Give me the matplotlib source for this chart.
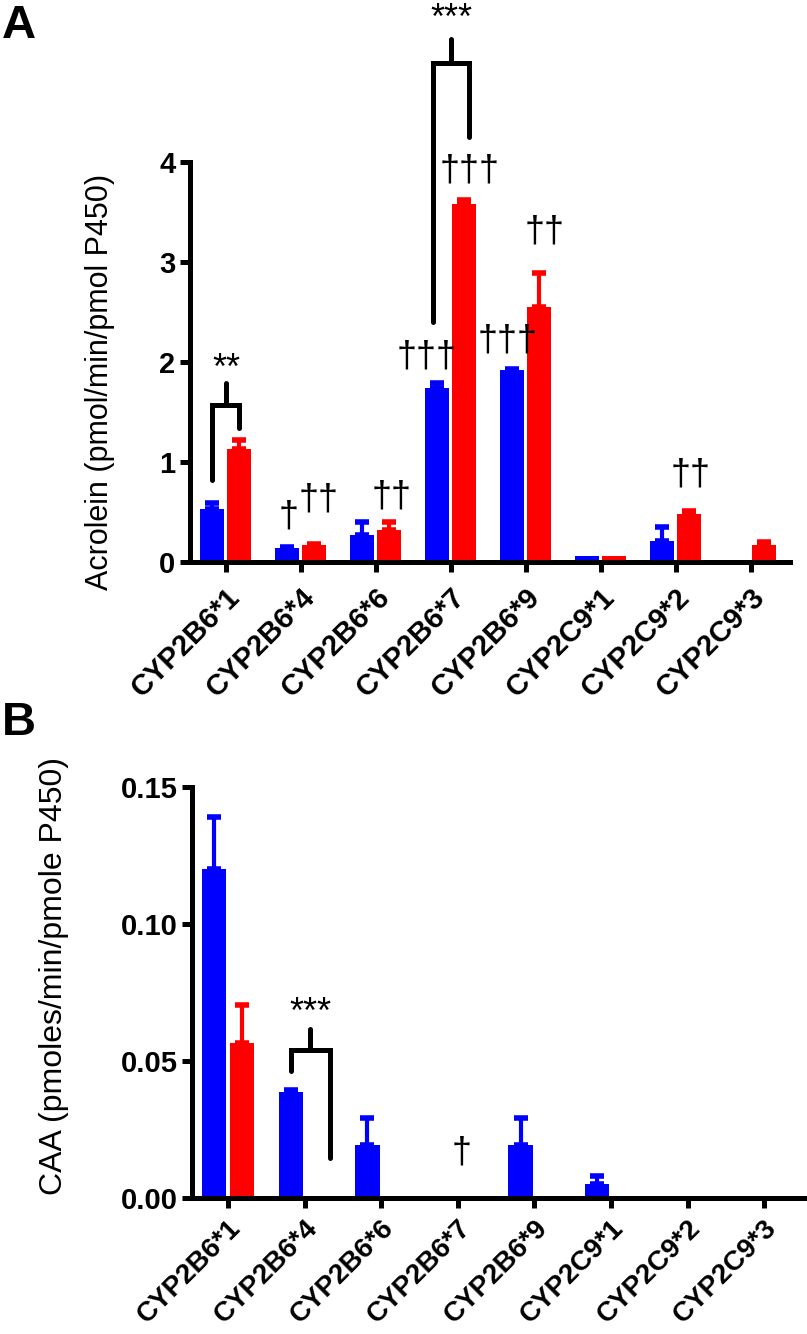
import numpy as np
import matplotlib
matplotlib.use('Agg')
from matplotlib import pyplot as plt

plt.rcParams['font.family'] = ['Liberation Sans', 'DejaVu Sans']

labels = ['CYP2B6*1', 'CYP2B6*4', 'CYP2B6*6', 'CYP2B6*7',
          'CYP2B6*9', 'CYP2C9*1', 'CYP2C9*2', 'CYP2C9*3']

# panel A: acrolein
acr_blue = [0.53, 0.14, 0.27, 1.74, 1.92, 0.06, 0.21, 0.01]
acr_blue_err = [0.06, 0.01, 0.13, 0.05, 0.01, 0.0, 0.14, 0.0]
acr_red = [1.13, 0.17, 0.32, 3.58, 2.55, 0.06, 0.48, 0.17]
acr_red_err = [0.09, 0.01, 0.08, 0.04, 0.34, 0.0, 0.03, 0.03]

# panel B: CAA
caa_blue = [0.120, 0.0385, 0.0195, 0.0, 0.0195, 0.005, 0.0, 0.0]
caa_blue_err = [0.019, 0.0008, 0.0095, 0.0, 0.0095, 0.003, 0.0, 0.0]
caa_red = [0.0565, 0.0, 0.0, 0.0, 0.0, 0.0, 0.0, 0.0]
caa_red_err = [0.014, 0.0, 0.0, 0.0, 0.0, 0.0, 0.0, 0.0]

BLUE = '#0000ff'
RED = '#ff0000'
LW = 3.6
off = 0.18
w = 0.32

fig = plt.figure(figsize=(8.07, 13.34), dpi=100)
axA = fig.add_axes([0.2354, 0.5787, 0.7435, 0.2999])
axB = fig.add_axes([0.2379, 0.1020, 0.7621, 0.3081])


def draw_bars(ax, blue, blue_err, red, red_err):
    x = np.arange(len(labels))
    for xs, vals, errs, c in [(x - off, blue, blue_err, BLUE), (x + off, red, red_err, RED)]:
        vals = np.array(vals)
        errs = np.array(errs)
        ax.bar(xs, vals, w, color=c, zorder=2)
        m = errs > 0
        ax.errorbar(xs[m], vals[m], yerr=[np.zeros(m.sum()), errs[m]], fmt='none',
                    ecolor=c, elinewidth=3, capsize=5, capthick=4, zorder=2)


def style(ax, xfs, xpad):
    for s in ['top', 'right']:
        ax.spines[s].set_visible(False)
    for s in ['left', 'bottom']:
        ax.spines[s].set_linewidth(LW)
    ax.tick_params(width=LW, length=7)
    ax.tick_params(axis='x', pad=xpad)
    ax.set_xticks(np.arange(len(labels)))
    ax.set_xticklabels(labels, rotation=45, ha='right', rotation_mode='anchor',
                       fontsize=xfs, fontweight='bold')
    for t in ax.get_yticklabels():
        t.set_fontweight('bold')
        t.set_fontsize(21)


def bracket(ax, x1, y1, x2, y2, ytop, ystub):
    ax.plot([x1, x1, x2, x2], [y1, ytop, ytop, y2], color='k', lw=LW,
            solid_capstyle='round', solid_joinstyle='miter', clip_on=False, zorder=3)
    xm = (x1 + x2) / 2
    ax.plot([xm, xm], [ytop, ystub], color='k', lw=LW, solid_capstyle='round',
            clip_on=False, zorder=3)


def mark(ax, x, y, s):
    ax.text(x, y, s, ha='center', va='center', fontsize=26, clip_on=False)


# ---- panel A
draw_bars(axA, acr_blue, acr_blue_err, acr_red, acr_red_err)
axA.set_xlim(-0.48, 7.52)
axA.set_ylim(0, 4)
axA.set_yticks([0, 1, 2, 3, 4])
style(axA, 21, 8)
axA.set_ylabel('Acrolein (pmol/min/pmol P450)', fontsize=22)
axA.yaxis.set_label_coords(-0.125, 0.45)

bracket(axA, -0.18, 0.82, 0.18, 1.34, 1.57, 1.79)
mark(axA, 0.0, 1.93, '**')
bracket(axA, 2.76, 2.40, 3.24, 4.25, 4.99, 5.23)
mark(axA, 3.0, 5.42, '***')
mark(axA, 0.83, 0.45, '†')
mark(axA, 1.23, 0.62, '††')
mark(axA, 2.21, 0.65, '††')
mark(axA, 2.68, 2.05, '†††')
mark(axA, 3.25, 3.91, '†††')
mark(axA, 3.76, 2.21, '†††')
mark(axA, 4.25, 3.30, '††')
mark(axA, 6.20, 0.87, '††')

# ---- panel B
draw_bars(axB, caa_blue, caa_blue_err, caa_red, caa_red_err)
axB.set_xlim(-0.47, 7.56)
axB.set_ylim(0, 0.15)
axB.set_yticks([0.0, 0.05, 0.10, 0.15])
axB.set_yticklabels(['0.00', '0.05', '0.10', '0.15'])
style(axB, 20, 5)
axB.set_ylabel('CAA (pmoles/min/pmole P450)', fontsize=23)
axB.yaxis.set_label_coords(-0.2, 0.54)

bracket(axB, 0.82, 0.0465, 1.33, 0.0145, 0.054, 0.0615)
mark(axB, 1.08, 0.0675, '***')
mark(axB, 3.05, 0.0163, '†')

fig.text(0.002, 0.997, 'A', fontsize=34, fontweight='bold', va='top', ha='left')
fig.text(0.002, 0.4745, 'B', fontsize=34, fontweight='bold', va='top', ha='left')

fig.savefig('out.png', dpi=100)
